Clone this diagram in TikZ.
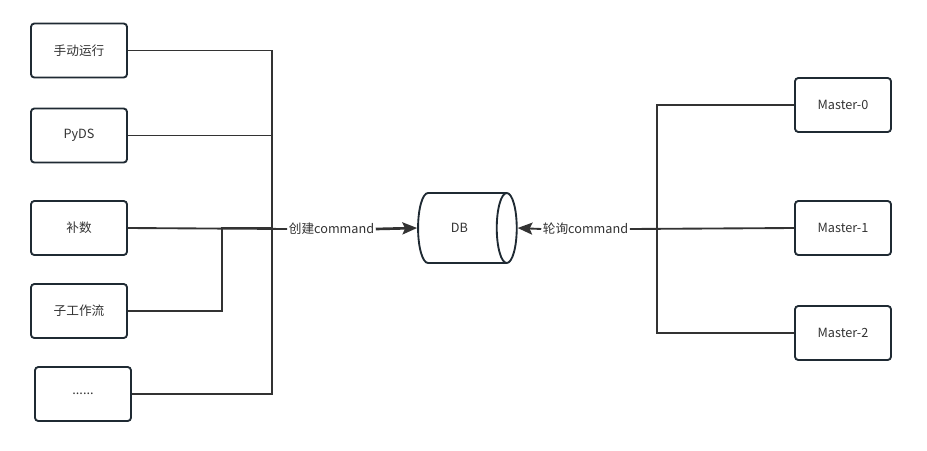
\documentclass[tikz,border=0pt]{standalone}
\usepackage{fontspec}
\setmainfont{Noto Sans CJK SC}
\usetikzlibrary{arrows.meta,positioning,calc,shapes.geometric}
\definecolor{linegray}{HTML}{333333}
\definecolor{boxline}{HTML}{1F2A33}

\begin{document}
\begin{tikzpicture} [> = {Stealth[length=11pt, width=9pt, inset=2pt]}, x = 0.75pt, y = -0.75pt, font = \fontsize{9.5}{11}\selectfont]
            % Estilos
            \tikzstyle{task}=[rectangle, draw=boxline, rounded corners=2.5pt, line width=1.4pt, minimum width=72pt, minimum height=40.5pt, text=linegray]
            \tikzstyle{wire}=[draw=linegray, line width=1.4pt]
            \tikzstyle{tag}=[fill=white, inner sep=1pt, text=linegray]
            \useasboundingbox (0,0) rectangle (927,450);

            % Nós
            \node[task] (manual) at (79,50.5) {手动运行};
            \node[task] (pyds) at (79,135.5) {PyDS};
            \node[task] (bushu) at (79,228) {补数};
            \node[task] (sub) at (79,311) {子工作流};
            \node[task] (dots) at (83,394) {......};

            \node[cylinder, draw=boxline, line width=1.4pt, shape aspect=1.1, minimum width=52.5pt, minimum height=74pt, text=linegray] (db) at (459.5,228) {DB};

            \node[task] (m0) at (843,105) {Master-0};
            \node[task] (m1) at (843,228) {Master-1};
            \node[task] (m2) at (843,333) {Master-2};

            \node[tag] (create) at (331.5,229) {创建command};
            \node[tag] (poll) at (585.5,229) {轮询command};

            \coordinate (join) at (272,228);
            \coordinate (subturn) at (222,228);
            \coordinate (split) at (657,228);

            % Arestas
            \draw[wire] (manual.east) -| (join);
            \draw[wire] (pyds.east) -- (pyds.east -| join);
            \draw[wire] (sub.east) -| (subturn) -- (join);
            \draw[wire] (dots.east) -| (join);
            \draw[wire] (bushu.east) -- (create.west);
            \draw[wire, ->, line width=2pt] (create.east) -- (db.west);

            \draw[wire, ->] (poll.west) -- (db.east);
            \draw[wire] (poll.east) -- (m1.west);
            \draw[wire] (m0.west) -| (split);
            \draw[wire] (m2.west) -| (split);
        \end{tikzpicture}
\end{document}
